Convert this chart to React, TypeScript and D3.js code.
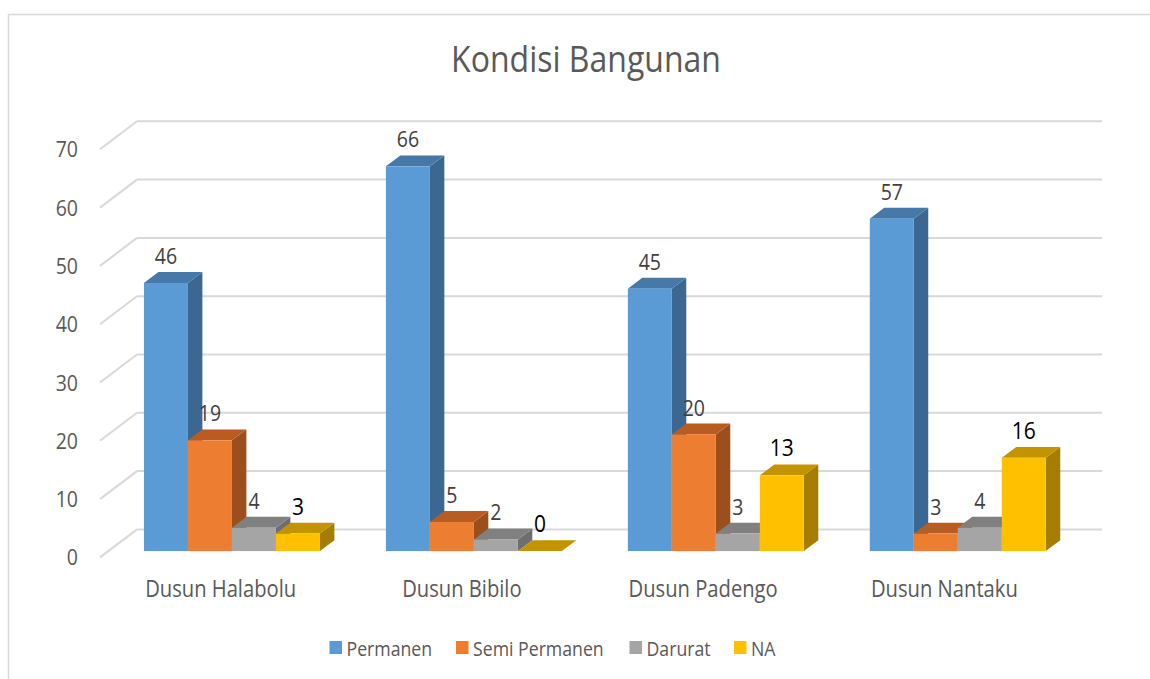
import React, { useEffect } from "react";
import * as d3 from "d3";

// data
const categories = ["Dusun Halabolu", "Dusun Bibilo", "Dusun Padengo", "Dusun Nantaku"];
const seriesNames = ["Permanen", "Semi Permanen", "Darurat", "NA"];
const permanen = [46, 66, 45, 57];
const semiPermanen = [19, 5, 20, 3];
const darurat = [4, 2, 3, 4];
const na = [3, 0, 13, 16];
const yTicks = [0, 10, 20, 30, 40, 50, 60, 70];

const seriesValues = [permanen, semiPermanen, darurat, na];

// front / top / side shades
const colors = [
  { front: "#5B9BD5", top: "#4779A8", side: "#3C6790" },
  { front: "#ED7D31", top: "#B85C22", side: "#9C4E1C" },
  { front: "#A5A5A5", top: "#808080", side: "#6E6E6E" },
  { front: "#FFC000", top: "#C49300", side: "#A57D00" },
];
const labelColors = ["#404040", "#404040", "#404040", "#000000"];

const W = 1150;
const H = 679;
const FONT = "'Open Sans', sans-serif";

// oblique depth of the whole floor
const DX = 37;
const DY = -28;
// bar sits between these depth fractions
const BAR_D0 = 0.225;
const BAR_D1 = 0.615;

const App = () => {
  useEffect(() => {
    document.body.style.margin = "0";
  }, []);

  const x = d3.scaleBand().domain(categories).range([100, 1065]);
  const y = d3.scaleLinear().domain([0, 70]).range([557.4, 149.3]);
  const inner = d3.scaleBand().domain(seriesNames).range([-88, 88]);

  const bx0 = DX * BAR_D0;
  const by0 = DY * BAR_D0;
  const bdx = DX * (BAR_D1 - BAR_D0);
  const bdy = DY * (BAR_D1 - BAR_D0);

  const bars: any[] = [];
  categories.forEach((c, ci) => {
    const center = (x(c) as number) + x.bandwidth() / 2 + bx0 + 3 + ci * 0.7;
    seriesNames.forEach((s, si) => {
      const v = seriesValues[si][ci];
      const left = center + (inner(s) as number);
      const right = left + inner.bandwidth();
      const base = y(0) + by0;
      const top = y(v) + by0;
      bars.push({ ci, si, v, left, right, base, top });
    });
  });

  const stretch = (tx: number, ty: number, k = 1.15) => `translate(${tx},${ty}) scale(1,${k})`;

  const legendX = [329.5, 456, 629.5, 734];

  return (
    <svg width={W} height={H} style={{ display: "block" }} fontFamily={FONT}>
      <rect x={0} y={0} width={W} height={H} fill="#ffffff" />
      <rect x={8.5} y={14.5} width={W + 10} height={H} fill="none" stroke="#D9D9D9" strokeWidth={1.5} />

      {/* title */}
      <text transform={stretch(586, 71.5, 1.15)} textAnchor="middle" fontSize={32} fill="#595959">
        Kondisi Bangunan
      </text>

      {/* gridlines: back wall + side wall diagonal */}
      {yTicks.map((t) => (
        <g key={t} stroke="#D9D9D9" strokeWidth={2} fill="none">
          <line x1={100} y1={y(t)} x2={100 + DX} y2={y(t) + DY} />
          <line x1={100 + DX} y1={y(t) + DY} x2={1102} y2={y(t) + DY} />
        </g>
      ))}
      {yTicks.map((t) => (
        <text
          key={"l" + t}
          transform={stretch(78, y(t) + 8)}
          textAnchor="end"
          fontSize={19.5}
          fill="#595959"
        >
          {t}
        </text>
      ))}

      {/* bars, drawn left to right so nearer faces cover */}
      {bars.map((b, i) => {
        const col = colors[b.si];
        const topFace = `M${b.left},${b.top}L${b.right},${b.top}L${b.right + bdx},${b.top + bdy}L${b.left + bdx},${b.top + bdy}Z`;
        const sideFace = `M${b.right},${b.top}L${b.right + bdx},${b.top + bdy}L${b.right + bdx},${b.base + bdy}L${b.right},${b.base}Z`;
        return (
          <g key={i}>
            <path d={sideFace} fill={col.side} />
            <path d={topFace} fill={col.top} />
            <rect x={b.left} y={b.top} width={b.right - b.left} height={b.base - b.top} fill={col.front} />
          </g>
        );
      })}

      {/* data labels */}
      {bars.map((b, i) => (
        <text
          key={"d" + i}
          transform={stretch((b.left + b.right) / 2, b.top - 19)}
          textAnchor="middle"
          fontSize={b.si === 3 ? 21 : 19.5}
          fill={labelColors[b.si]}
        >
          {b.v}
        </text>
      ))}

      {/* category labels */}
      {categories.map((c) => (
        <text
          key={c}
          transform={stretch((x(c) as number) + x.bandwidth() / 2, 596.5)}
          textAnchor="middle"
          fontSize={20.2}
          fill="#595959"
        >
          {c}
        </text>
      ))}

      {/* legend */}
      {seriesNames.map((s, i) => (
        <g key={s}>
          <rect x={legendX[i]} y={641} width={12.5} height={13} fill={colors[i].front} />
          <text transform={stretch(legendX[i] + 17, 655.5)} fontSize={17.7} fill="#595959">
            {s}
          </text>
        </g>
      ))}
    </svg>
  );
};

export default App;
